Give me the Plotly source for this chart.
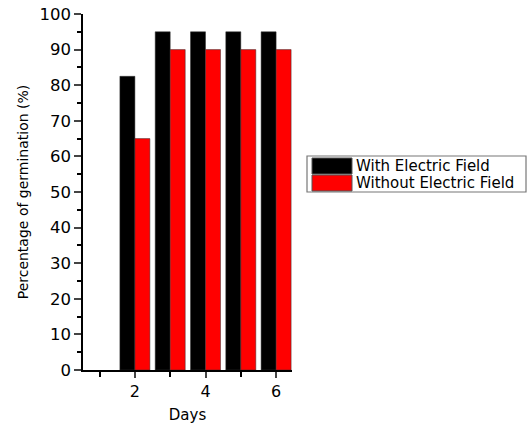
import plotly.graph_objects as go

days = [2, 3, 4, 5, 6]
with_field = [82.5, 95, 95, 95, 95]
without_field = [65, 90, 90, 90, 90]
series_names = ["With Electric Field", "Without Electric Field"]
colors = ["#000000", "#ff0000"]

W, H = 527, 426
X0, X1, Y0, Y1 = 83, 292, 14, 370  # plot area in page pixels
L, R, T, B = X0, W - X1, Y0, H - Y1
pw, ph = X1 - X0, Y1 - Y0

def px(x):
    return (x - X0) / pw

def py(y):
    return (Y1 - y) / ph

fig = go.Figure()
for name, vals, c in zip(series_names, [with_field, without_field], colors):
    fig.add_trace(go.Bar(x=days, y=vals, name=name, marker=dict(color=c, line=dict(color="#333333", width=0.5)), showlegend=False))

font = "DejaVu Sans, Arial, sans-serif"
fig.update_layout(
    width=W, height=H,
    margin=dict(l=L, r=R, t=T, b=B, autoexpand=False),
    plot_bgcolor="white", paper_bgcolor="white",
    barmode="group", bargap=0.15, bargroupgap=0,
    font=dict(family=font, color="#000000"),
    xaxis=dict(range=[0.53, 6.45], tickvals=[2, 4, 6], ticks="outside", ticklen=6, tickwidth=1.5,
               showline=True, linecolor="black", linewidth=1.5, showgrid=False, zeroline=False,
               automargin=False, tickfont=dict(size=16, family=font), ticklabeloverflow="allow",
               minor=dict(tickvals=[1, 3, 5], ticks="outside", ticklen=5, tickwidth=1.5, tickcolor="black"),
               title=dict(text="Days", font=dict(size=15, family=font), standoff=10)),
    yaxis=dict(range=[0, 100], dtick=10, ticks="outside", ticklen=7, tickwidth=1.5,
               showline=True, linecolor="black", linewidth=1.5, showgrid=False, zeroline=False,
               automargin=False, tickfont=dict(size=16.5, family=font), ticklabeloverflow="allow",
               minor=dict(dtick=5, ticks="outside", ticklen=4, tickwidth=1.5, tickcolor="black", showgrid=False),
               title=dict(text="Percentage of germination (%)", font=dict(size=14, family=font), standoff=8)),
)

# legend box drawn manually to match wide swatches
fig.add_shape(type="rect", xref="paper", yref="paper", x0=px(307), x1=px(526), y0=py(192), y1=py(156),
              line=dict(color="#777777", width=1.2), fillcolor="white")
for i, (name, c) in enumerate(zip(series_names, colors)):
    top = 158 + i * 17
    fig.add_shape(type="rect", xref="paper", yref="paper", x0=px(312), x1=px(352), y0=py(top + 16), y1=py(top),
                  line=dict(color="#555555", width=1), fillcolor=c)
    fig.add_annotation(xref="paper", yref="paper", x=px(354), y=py(top + 8), text=name, showarrow=False,
                       xanchor="left", yanchor="middle", font=dict(size=15, family=font, color="black"))

fig.write_html("out.html", config={"displayModeBar": False},
               post_script="document.body.style.margin='0px';")
